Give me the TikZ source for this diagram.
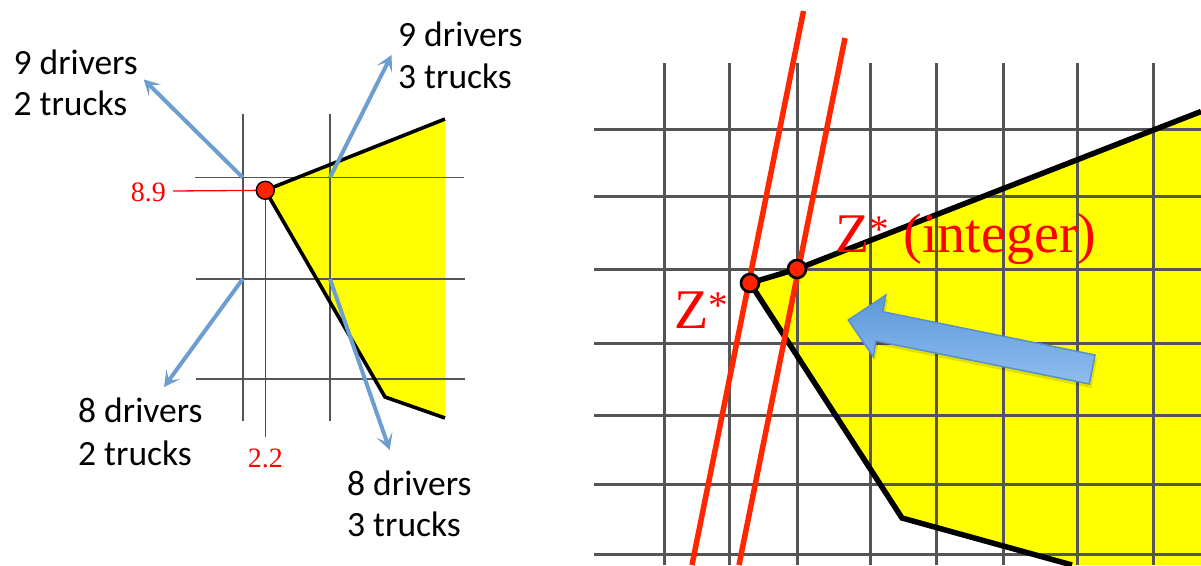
\documentclass[tikz,border=0pt]{standalone}
\usepackage{fontspec}
\setmainfont{Liberation Serif}
\newfontfamily\calfont{Carlito}
\usetikzlibrary{arrows.meta}
\definecolor{gridgray}{HTML}{555555}
\definecolor{polyyellow}{HTML}{FFFF00}
\definecolor{linered}{HTML}{FF2600}
\definecolor{dotred}{HTML}{FF2200}
\definecolor{txtred}{HTML}{FF0000}
\definecolor{arrowblue}{HTML}{6C9ECF}
\definecolor{bluetop}{HTML}{5C98DA}
\definecolor{bluebot}{HTML}{8FBDEF}
\definecolor{blueedge}{HTML}{5A8FCB}
\begin{document}
\begin{tikzpicture}[x=1pt,y=-1pt,
  lgrid/.style={draw=gridgray,line width=1.8pt},
  rgrid/.style={draw=gridgray,line width=3pt},
  ledge/.style={draw=black,line width=3.6pt,line join=miter},
  redge/.style={draw=black,line width=5.5pt,line join=miter},
  thinred/.style={draw=txtred,line width=1.3pt},
  thickred/.style={draw=linered,line width=5.5pt},
  bluearrow/.style={draw=arrowblue,line width=4pt,-{Stealth[length=16pt,width=17pt,inset=8pt]}},
  ldot/.style={circle,fill=dotred,draw=black,line width=1.4pt,minimum size=18pt,inner sep=0pt},
  rdot/.style={circle,fill=dotred,draw=black,line width=2.6pt,minimum size=18pt,inner sep=0pt},
  lbl/.style={font=\calfont\fontsize{35.5}{40}\selectfont,inner sep=0pt,anchor=base west},
  numlbl/.style={font=\fontsize{28}{32}\selectfont,text=txtred,inner sep=0pt},
  zlbl/.style={font=\fontsize{56}{60}\selectfont,text=txtred,inner sep=0pt,anchor=base west}
]
\useasboundingbox (0,0) rectangle (1201,565);

% ---------------- left panel ----------------
\coordinate (lp) at (265.3,190.3);
\coordinate (ltr) at (445,119);
\coordinate (lbr) at (445,418);
\coordinate (lbm) at (385,397);
\fill[polyyellow] (lp) -- (ltr) -- (lbr) -- (lbm) -- cycle;

\draw[lgrid] (242.7,114) -- (242.7,421);
\draw[lgrid] (330,114) -- (330,421);
\draw[lgrid] (195,177.5) -- (464,177.5);
\draw[lgrid] (196,279) -- (465,279);
\draw[lgrid] (196,379) -- (465,379);

\draw[ledge] (ltr) -- (lp) -- (lbm) -- (lbr);

\node[numlbl,anchor=base east] (n89) at (166,201) {8.9};
\node[numlbl,anchor=base] (n22) at (265.3,467) {2.2};
\coordinate (hl) at (173,191);
\coordinate (vl) at (265.3,437);
\draw[thinred] (hl) -- (lp);
\draw[thinred] (lp) -- (vl);
\node[ldot] (ldotn) at (lp) {};

\coordinate (g1) at (242.7,177.5);
\coordinate (g2) at (330,177.5);
\coordinate (g3) at (242.7,279);
\coordinate (g4) at (330,279);
\coordinate (t1) at (143.7,79.4);
\coordinate (t2) at (391.6,54.9);
\coordinate (t3) at (164,387);
\coordinate (t4) at (389.7,450);
\draw[bluearrow] (g1) -- (t1);
\draw[bluearrow] (g2) -- (t2);
\draw[bluearrow] (g3) -- (t3);
\draw[bluearrow] (g4) -- (t4);

\node[lbl] (a1) at (13.4,74) {9 drivers};
\node[lbl] (a2) at (13.4,115) {2 trucks};
\node[lbl] (b1) at (398,46) {9 drivers};
\node[lbl] (b2) at (398,88) {3 trucks};
\node[lbl] (c1) at (78,422) {8 drivers};
\node[lbl] (c2) at (78,465) {2 trucks};
\node[lbl] (d1) at (347,495) {8 drivers};
\node[lbl] (d2) at (347,536) {3 trucks};

% ---------------- right panel ----------------
\coordinate (zs) at (750,283);
\coordinate (zi) at (797,269);
\coordinate (rtr) at (1201,111.5);
\coordinate (rbr) at (1201,565);
\coordinate (rbb) at (1072,565);
\coordinate (rbm) at (902,518);
\fill[polyyellow] (zs) -- (zi) -- (rtr) -- (rbr) -- (rbb) -- (rbm) -- cycle;

\foreach \x in {664,729,797,870,936,1003,1077,1153}
  \draw[rgrid] (\x,63) -- (\x,565);
\foreach \y in {129,196,269,343,415,484,554}
  \draw[rgrid] (594,\y) -- (1201,\y);

\draw[redge] (rtr) -- (zi) -- (zs) -- (rbm) -- (rbb);

\coordinate (r1a) at (803.5,11);
\coordinate (r1b) at (692,565);
\coordinate (r2a) at (845,38);
\coordinate (r2b) at (739,565);
\draw[thickred] (r1a) -- (r1b);
\draw[thickred] (r2a) -- (r2b);

\node[rdot] (zsdot) at (zs) {};
\node[rdot] (zidot) at (zi) {};

\node[zlbl] (zlab) at (674,328) {Z\textsuperscript{*}};
\node[zlbl] (zilab) at (835,252) {Z\textsuperscript{*} (integer)};

% block arrow
\fill[black,opacity=0.12] (850,324) -- (888,299) -- (884.7,315.7) -- (1097,359) -- (1091.3,388) -- (878,345) -- (875.3,360.7) -- cycle;
\draw[blueedge,line width=1.5pt,top color=bluetop,bottom color=bluebot,line join=miter]
  (848.3,320) -- (886,295) -- (882.7,311.7) -- (1095,355) -- (1089.3,384) -- (876,341) -- (873.3,356.7) -- cycle;
\end{tikzpicture}
\end{document}
